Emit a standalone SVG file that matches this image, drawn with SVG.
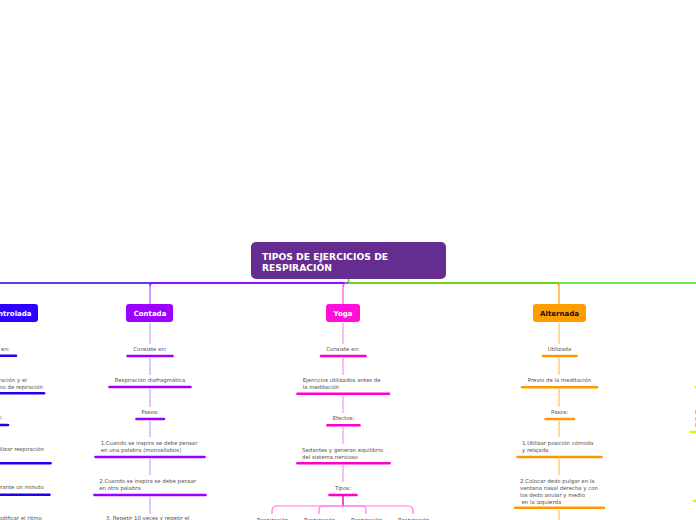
<svg xmlns="http://www.w3.org/2000/svg" width="696" height="520" viewBox="0 0 696 520">
<style>
.t{font-family:"DejaVu Sans",Verdana,sans-serif;font-size:5.4px;fill:#505050}
.m{text-anchor:middle}
.e{text-anchor:end}
.n{font-family:"DejaVu Sans",Verdana,sans-serif;font-size:7px;font-weight:bold;fill:#fff;text-anchor:middle}
.bar{stroke-width:2.6;stroke-linecap:round;fill:none}
.lk{stroke-width:1.6;fill:none}
.h{stroke-width:1.4;fill:none}
</style>
<rect width="696" height="520" fill="#fff"/>
<g id="connectors">
  <path class="h" d="M348.5,283 H-10" stroke="#2200ee"/>
  <path class="lk" d="M-7,284 V304" stroke="#8a70ff"/>
  <path class="h" d="M348,283 H153 Q150,283 150,286" stroke="#9900ff"/>
  <path class="lk" d="M150,286 V304" stroke="#c585ff"/>
  <path class="h" d="M347.5,283 Q343,283 343,287" stroke="#ff44dd"/>
  <path class="lk" d="M343,287 V304" stroke="#ff77e6"/>
  <path class="h" d="M348,283 H556 Q559,283 559,286" stroke="#ff9900"/>
  <path class="lk" d="M559,286 V304" stroke="#ffb44a"/>
  <path class="h" d="M348.5,279 V283 H700" stroke="#3cdc14"/>
  <g stroke="#dcb4ff" class="lk">
    <path d="M150,323 V344"/><path d="M150,358 V375"/><path d="M150,389 V407"/><path d="M150,421 V437"/><path d="M150,459 V475"/><path d="M150,497 V514"/>
  </g>
  <g stroke="#ffaaf0" class="lk">
    <path d="M343,323 V344"/><path d="M343,358 V375"/><path d="M343,396 V413"/><path d="M343,427 V444"/><path d="M343,465 V482"/>
  </g>
  <g stroke="#ffd08a" class="lk">
    <path d="M559,323 V344"/><path d="M559,358 V375"/><path d="M559,389 V407"/><path d="M559,421 V437"/><path d="M559,459 V475"/><path d="M559,510 V520"/>
  </g>
  <path d="M343,496 V506" stroke="#ff00cc" stroke-width="1.5" fill="none"/>
  <g stroke="#ff77e6" stroke-width="1.2" fill="none">
    <path d="M343,506 H277 Q272,506 272,511 V514"/>
    <path d="M343,506 H323 Q319,506 319,510 V514"/>
    <path d="M343,506 H362 Q366,506 366,510 V514"/>
    <path d="M343,506 H408 Q413,506 413,511 V514"/>
  </g>
</g>
<g id="root">
  <rect x="251" y="242" width="195" height="37" rx="5" fill="#662d91"/>
  <text font-family="DejaVu Sans,Verdana,sans-serif" font-size="9.2" font-weight="bold" fill="#fff"><tspan x="262" y="259.5">TIPOS DE EJERCICIOS DE</tspan><tspan x="262" y="270.5">RESPIRACIÓN</tspan></text>
</g>
<g id="controlada">
  <rect x="-40" y="304" width="78" height="18" rx="3" fill="#2e00ff"/>
  <text class="n" style="text-anchor:end" x="31.5" y="315.6">Controlada</text>
  <text class="t m" x="-7" y="351">Consiste en:</text>
  <path class="bar" d="M-30,355.7 H16" stroke="#2200ee"/>
  <text class="t e"><tspan x="26.7" y="382">Respiración y el</tspan><tspan x="43" y="389.3">ritmo de repiración</tspan></text>
  <path class="bar" d="M-58,393.3 H44" stroke="#2200ee"/>
  <text class="t m" x="-6" y="419.3">Pasos:</text>
  <path class="bar" d="M-22,425 H8" stroke="#2200ee"/>
  <text class="t e" x="44" y="451.3">1.Utilizar respiración</text>
  <path class="bar" d="M-65,463.3 H50.5" stroke="#2200ee"/>
  <text class="t e" x="43.7" y="488.7">2.Respirar durante un minuto</text>
  <path class="bar" d="M-64,494.7 H49.5" stroke="#2200ee"/>
  <text class="t e" x="41.7" y="520">3.Modificar el ritmo</text>
</g>
<g id="contada">
  <rect x="126" y="304" width="47" height="18" rx="3" fill="#9d00ff"/>
  <text class="n" x="150" y="315.6">Contada</text>
  <text class="t m" x="150" y="350.5">Consiste en:</text>
  <path class="bar" d="M127.5,356 H172.5" stroke="#9900ff"/>
  <text class="t m" x="150" y="382">Respiración diafragmática</text>
  <path class="bar" d="M109.5,387 H190.5" stroke="#9900ff"/>
  <text class="t m" x="150" y="413.7">Pasos:</text>
  <path class="bar" d="M136.5,419 H164" stroke="#9900ff"/>
  <text class="t"><tspan x="100.7" y="444.7">1.Cuando se inspira se debe pensar</tspan><tspan x="100.7" y="452">en una palabra (monosílabos)</tspan></text>
  <path class="bar" d="M95.5,457 H204.5" stroke="#9900ff"/>
  <text class="t"><tspan x="99.3" y="482.7">2.Cuando se inspira se debe pensar</tspan><tspan x="99.3" y="490">en otra palabra</tspan></text>
  <path class="bar" d="M94.5,495 H205.5" stroke="#9900ff"/>
  <text class="t" x="106" y="520">3. Repetir 10 veces y repetir el</text>
</g>
<g id="yoga">
  <rect x="326" y="304" width="34" height="18" rx="3" fill="#ff0fd8"/>
  <text class="n" x="343" y="315.6">Yoga</text>
  <text class="t m" x="343" y="350.7">Consiste en:</text>
  <path class="bar" d="M321,356 H365.5" stroke="#ff00cc"/>
  <text class="t"><tspan x="302.7" y="382.3">Ejercicios utilizados antes de</tspan><tspan x="302.7" y="389">la meditación</tspan></text>
  <path class="bar" d="M297.5,393.7 H389" stroke="#ff00cc"/>
  <text class="t m" x="343.5" y="420.3">Efectos:</text>
  <path class="bar" d="M327.5,425.3 H359.5" stroke="#ff00cc"/>
  <text class="t"><tspan x="302" y="452">Sedantes y generan equilibrio</tspan><tspan x="302" y="459.3">del sistema nervioso</tspan></text>
  <path class="bar" d="M297.5,463.3 H389.5" stroke="#ff00cc"/>
  <text class="t m" x="343" y="489.7">Tipos:</text>
  <path class="bar" d="M329.5,495 H356.5" stroke="#ff00cc"/>
  <text class="t m" x="272.5" y="522">Respiración</text>
  <text class="t m" x="319.5" y="522">Respiración</text>
  <text class="t m" x="366.5" y="522">Respiración</text>
  <text class="t m" x="413.5" y="522">Respiración</text>
</g>
<g id="alternada">
  <rect x="533" y="304" width="53" height="18" rx="3" fill="#ff9d00"/>
  <text class="n" style="fill:#111" x="559.5" y="315.6">Alternada</text>
  <text class="t m" x="559.5" y="350.7">Utilizada</text>
  <path class="bar" d="M543,356 H576.5" stroke="#ff9900"/>
  <text class="t m" x="559.5" y="382.3">Previo de la meditación</text>
  <path class="bar" d="M522,387.3 H597" stroke="#ff9900"/>
  <text class="t m" x="559.5" y="414">Pasos:</text>
  <path class="bar" d="M545.5,419 H574" stroke="#ff9900"/>
  <text class="t"><tspan x="522" y="444.7">1.Utilizar posición cómoda</tspan><tspan x="522" y="452">y relajada</tspan></text>
  <path class="bar" d="M517.5,457 H601.5" stroke="#ff9900"/>
  <text class="t"><tspan x="520" y="482.7">2.Colocar dedo pulgar en la</tspan><tspan x="520" y="489.7">ventana nasal derecha y con</tspan><tspan x="520" y="496.7">los dedo anular y medio</tspan><tspan x="521.5" y="503.7">en la izquierda</tspan></text>
  <path class="bar" d="M515,507.7 H604" stroke="#ff9900"/>
</g>
<g id="quinta">
  <path class="bar" d="M696,387.3 H720" stroke="#ccff00"/>
  <text class="t"><tspan x="695" y="413.7">Inhalar</tspan><tspan x="695" y="420.7">lentamente</tspan><tspan x="695" y="426.7">Inflar</tspan></text>
  <path class="bar" d="M691,432 H740" stroke="#ccff00"/>
  <path class="bar" d="M694,501 H740" stroke="#ccff00"/>
</g>
</svg>
